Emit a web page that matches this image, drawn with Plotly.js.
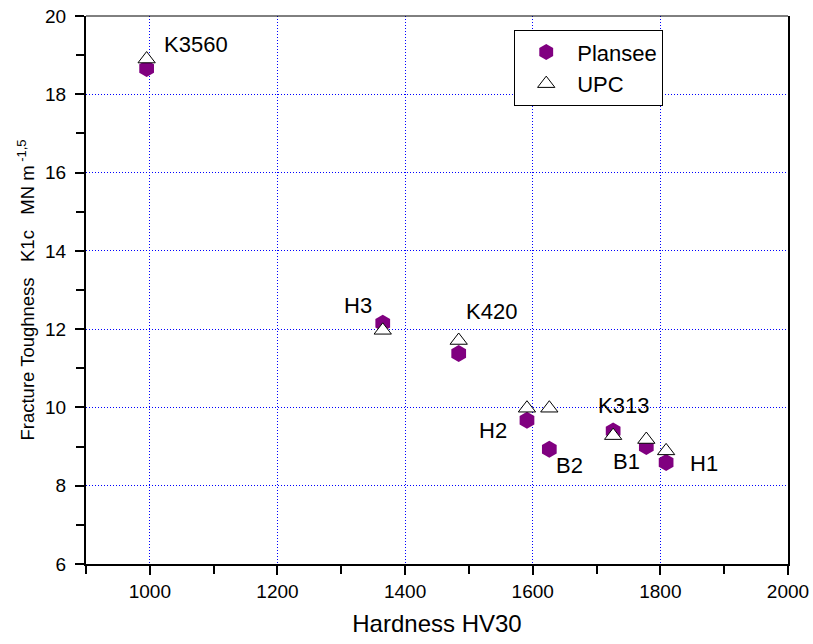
<!DOCTYPE html>
<html>
<head>
<meta charset="utf-8">
<script src="https://cdn.plot.ly/plotly-3.0.1.min.js"></script>
<style>html,body{margin:0;padding:0;background:#fff;}#chart{width:813px;height:644px;}</style>
</head>
<body>
<div id="chart"></div>
<script>
// ---- data ----
const grades = ["K3560", "H3", "K420", "H2", "B2", "K313", "B1", "H1"];
const hardness = [995, 1365, 1484, 1591, 1626, 1726, 1778, 1809];
const plansee = [18.66, 12.15, 11.38, 9.67, 8.93, 9.40, 9.00, 8.59];
const upc = [18.90, 11.97, 11.71, 9.98, 9.98, 9.28, 9.18, 8.89];
const xTicks = [1000, 1200, 1400, 1600, 1800, 2000];
const yTicks = [6, 8, 10, 12, 14, 16, 18, 20];

// label pixel offsets relative to the Plansee marker (style only)
const labelShift = [[49, 24], [-25, 18], [33, 42], [-34, -10], [20, -16], [10, 25], [-20, -15], [38, -1]];

const FONT = "Liberation Sans, Arial, sans-serif";

const traces = [
  {
    type: "scatter", mode: "markers", name: "Plansee",
    x: hardness, y: plansee,
    marker: {symbol: "hexagon", size: 17, color: "#800080", line: {width: 0}}
  },
  {
    type: "scatter", mode: "markers", name: "UPC",
    x: hardness, y: upc,
    marker: {symbol: "triangle-up", size: 15, color: "#ffffff", line: {width: 1, color: "#000000"}}
  }
];

const annotations = grades.map((g, i) => ({
  x: hardness[i], y: plansee[i], xref: "x", yref: "y",
  text: g, showarrow: false,
  xanchor: "center", yanchor: "middle",
  xshift: labelShift[i][0], yshift: labelShift[i][1],
  font: {family: FONT, size: 22, color: "#000"}
}));

const layout = {
  width: 813, height: 644,
  margin: {l: 86, r: 25, t: 16, b: 80},
  paper_bgcolor: "#fff", plot_bgcolor: "#fff",
  font: {family: FONT, color: "#000"},
  showlegend: true,
  legend: {
    x: 0.61, y: 0.974, xanchor: "left", yanchor: "top",
    bgcolor: "#fff", bordercolor: "#000", borderwidth: 1,
    font: {family: FONT, size: 22, color: "#000"},
    itemwidth: 52
  },
  xaxis: {
    range: [900, 2000], tickmode: "array", tickvals: xTicks,
    ticks: "outside", ticklen: 9, tickwidth: 2, tickcolor: "#000",
    showline: true, linewidth: 2, linecolor: "#000",
    showgrid: true, gridcolor: "#0000ff", gridwidth: 1, griddash: "1px,2px",
    zeroline: false,
    minor: {dtick: 100, tick0: 900, ticks: "outside", ticklen: 8, tickwidth: 2, tickcolor: "#000", showgrid: false},
    tickfont: {family: FONT, size: 19, color: "#000"},
    title: {text: "Hardness HV30", font: {family: FONT, size: 24, color: "#000"}, standoff: 14}
  },
  yaxis: {
    range: [6, 20], tickmode: "array", tickvals: yTicks,
    ticks: "outside", ticklen: 9, tickwidth: 2, tickcolor: "#000",
    showline: true, linewidth: 2, linecolor: "#000", mirror: true,
    showgrid: true, gridcolor: "#0000ff", gridwidth: 1, griddash: "1px,2px",
    zeroline: false,
    minor: {dtick: 1, tick0: 6, ticks: "outside", ticklen: 8, tickwidth: 2, tickcolor: "#000", showgrid: false},
    tickfont: {family: FONT, size: 19, color: "#000"},
    ticklabelstandoff: 5,
    title: {
      text: "Fracture Toughness\u00a0\u00a0\u00a0K1c\u00a0\u00a0\u00a0MN m<sup>\u00a0-1,5</sup>",
      font: {family: FONT, size: 18.5, color: "#000"}, standoff: 6
    }
  },
  shapes: [
    {type: "line", xref: "paper", yref: "paper", x0: 0, x1: 1, y0: 1, y1: 1, line: {color: "#000", width: 1}}
  ],
  annotations: annotations
};

Plotly.newPlot("chart", traces, layout, {displayModeBar: false, staticPlot: true});
</script>
</body>
</html>
